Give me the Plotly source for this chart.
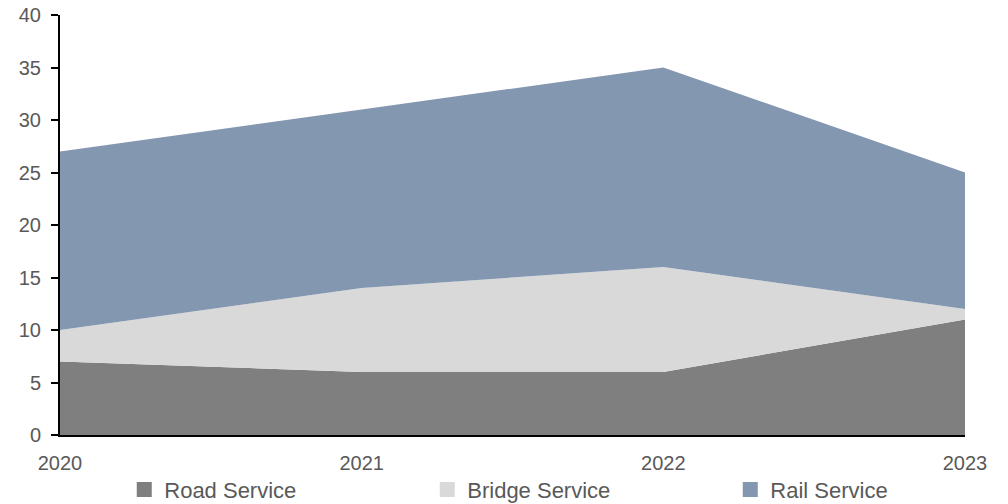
import plotly.graph_objects as go

years = ["2020", "2021", "2022", "2023"]
road = [7, 6, 6, 11]
bridge = [3, 8, 10, 1]
rail = [17, 17, 19, 13]
y_ticks = [0, 5, 10, 15, 20, 25, 30, 35, 40]

series = [("Road Service", road, "#7f7f7f"),
          ("Bridge Service", bridge, "#d9d9d9"),
          ("Rail Service", rail, "#8497b0")]

x_idx = list(range(len(years)))

fig = go.Figure()
for name, vals, col in series:
    fig.add_trace(go.Scatter(x=x_idx, y=vals, name=name, mode="none",
                             stackgroup="one", fillcolor=col, line=dict(width=0),
                             showlegend=False))
for name, vals, col in series:
    fig.add_trace(go.Scatter(x=[None], y=[None], name=name, mode="markers",
                             marker=dict(symbol="square", size=15, color=col),
                             showlegend=True))

font = dict(family="Liberation Sans, Arial, sans-serif", color="#595959")
fig.update_layout(
    width=1008, height=504,
    margin=dict(l=52, r=51, t=7, b=77, autoexpand=False),
    plot_bgcolor="white", paper_bgcolor="white",
    font=dict(size=20, **font),
    legend=dict(orientation="h", x=0.071, xanchor="left", y=-0.08, yanchor="top",
                traceorder="normal",
                entrywidth=258, entrywidthmode="pixels",
                font=dict(size=22, **font), itemwidth=30, tracegroupgap=0,
                bgcolor="rgba(0,0,0,0)"),
    xaxis=dict(range=[0, 3], tickmode="array", tickvals=x_idx, ticktext=years,
               showgrid=False, zeroline=False, showline=True, linecolor="black",
               linewidth=2, ticks="", ticklabelstandoff=9,
               ticklabeloverflow="allow",
               tickfont=dict(size=20, **font)),
    yaxis=dict(range=[0, 40], tickmode="array", tickvals=y_ticks,
               showgrid=False, zeroline=False, showline=True, linecolor="black",
               linewidth=2, ticks="outside", ticklen=7, tickcolor="black",
               tickwidth=1.5, ticklabelstandoff=6,
               ticklabeloverflow="allow",
               tickfont=dict(size=20, **font)),
)
fig.write_html("out.html")
